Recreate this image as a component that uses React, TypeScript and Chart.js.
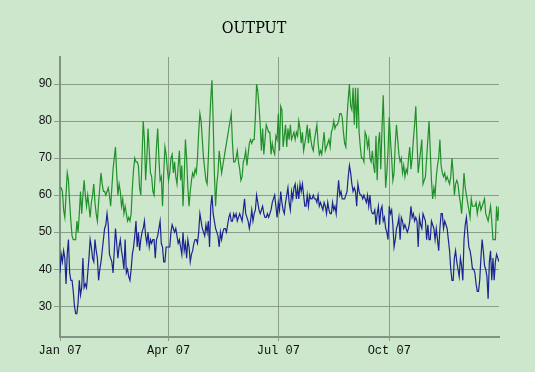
import React, { useEffect, useRef } from "react";
import { Chart, registerables } from "chart.js";

Chart.register(...registerables);

const TITLE = "OUTPUT";

// Daily values, Jan 1 (index 0) .. Dec 31 (index 364)
const GREEN_SERIES: number[] = [
  62, 62, 61, 56, 54, 60, 66, 64, 58, 53,
  49, 48, 48, 48, 53, 50, 55, 61, 55, 60,
  64, 60, 57, 60, 57, 54, 58, 60, 63, 58,
  55, 53, 58, 62, 66, 63, 61, 61, 60, 61,
  62, 60, 57, 62, 67, 70, 73, 66, 60, 63,
  61, 57, 59, 55, 57, 55, 53, 54, 53, 55,
  62, 67, 70, 69, 69, 68, 62, 60, 70, 80,
  75, 64, 70, 78, 72, 66, 65, 61, 60, 66,
  73, 78, 70, 64, 65, 57, 66, 73, 71, 67,
  64, 66, 70, 71, 66, 69, 65, 63, 68, 72,
  64, 68, 57, 65, 75, 70, 62, 57, 61, 64,
  66, 65, 67, 66, 70, 77, 82, 80, 75, 70,
  67, 64, 63, 70, 79, 86, 91, 80, 66, 57,
  63, 66, 72, 69, 66, 68, 70, 72, 74, 76,
  78, 80, 82, 74, 69, 69, 70, 72, 69, 67,
  64, 65, 69, 70, 72, 68, 71, 74, 75, 74,
  75, 75, 81, 90, 88, 84, 79, 72, 78, 71,
  75, 79, 78, 77, 77, 71, 74, 72, 71, 76,
  75, 82, 72, 84, 83, 73, 76, 79, 73, 78,
  75, 79, 75, 76, 77, 75, 77, 76, 80, 78,
  74, 77, 72, 74, 76, 79, 74, 78, 75, 73,
  72, 75, 77, 79, 74, 71, 72, 71, 74, 77,
  72, 73, 74, 75, 73, 77, 78, 80, 78, 79,
  79, 80, 82, 82, 81, 77, 74, 73, 81, 86,
  90, 84, 83, 89, 79, 89, 78, 89, 77, 73,
  70, 70, 69, 77, 76, 73, 75, 70, 69, 72,
  68, 66, 76, 64, 74, 77, 67, 78, 87, 75,
  62, 66, 72, 81, 75, 70, 64, 66, 74, 79,
  75, 71, 69, 70, 66, 68, 65, 67, 66, 70,
  73, 67, 70, 75, 79, 84, 75, 66, 69, 72,
  75, 63, 64, 65, 70, 75, 80, 72, 64, 59,
  62, 60, 65, 68, 70, 75, 68, 66, 65, 66,
  64, 65, 64, 63, 65, 70, 66, 60, 63, 64,
  63, 60, 58, 55, 60, 66, 62, 60, 58, 56,
  54, 59, 57, 57, 57, 58, 55, 57, 58, 56,
  57, 58, 59, 55, 54, 53, 55, 57, 53, 48,
  48, 48, 57, 53, 57,
];

const BLUE_SERIES: number[] = [
  39, 44, 42, 45, 43, 36, 44, 48, 39, 37,
  37, 34, 30, 28, 28, 31, 37, 33, 35, 43,
  35, 36, 35, 39, 43, 48, 46, 43, 42, 48,
  45, 43, 37, 40, 42, 45, 48, 51, 52, 55,
  52, 44, 43, 42, 39, 45, 51, 47, 43, 46,
  48, 45, 43, 40, 48, 39, 40, 38, 37, 40,
  44, 46, 49, 53, 46, 50, 45, 48, 50, 51,
  53, 49, 47, 50, 46, 48, 47, 48, 48, 43,
  48, 49, 51, 53, 47, 46, 42, 42, 46, 46,
  46, 46, 50, 52, 51, 50, 51, 49, 47, 48,
  46, 44, 50, 45, 47, 43, 48, 46, 42, 44,
  45, 47, 48, 48, 47, 50, 55, 53, 51, 50,
  49, 52, 50, 53, 46, 57, 60, 55, 53, 51,
  50, 49, 46, 50, 48, 50, 51, 51, 50, 52,
  54, 55, 53, 53, 55, 54, 55, 53, 54, 55,
  54, 53, 56, 59, 55, 54, 53, 51, 53, 56,
  53, 55, 56, 60, 58, 56, 55, 56, 57, 55,
  54, 54, 55, 54, 55, 56, 58, 59, 60, 57,
  54, 58, 56, 61, 58, 56, 55, 58, 60, 62,
  58, 56, 61, 59, 62, 63, 59, 62, 59, 63,
  61, 63, 60, 57, 57, 60, 57, 60, 59, 59,
  60, 59, 59, 58, 60, 57, 58, 57, 56, 58,
  57, 55, 58, 56, 55, 55, 58, 56, 57, 55,
  60, 64, 60, 61, 59, 59, 59, 60, 61, 65,
  68, 66, 63, 61, 62, 61, 57, 63, 61, 60,
  60, 59, 60, 59, 58, 60, 57, 60, 56, 55,
  55, 56, 52, 55, 57, 52, 56, 57, 53, 54,
  51, 50, 48, 57, 55, 56, 52, 46, 48, 51,
  52, 54, 48, 54, 53, 51, 52, 51, 50, 51,
  53, 57, 54, 55, 53, 54, 53, 46, 54, 52,
  51, 55, 54, 53, 48, 52, 48, 48, 53, 52,
  51, 48, 51, 48, 45, 51, 55, 55, 51, 53,
  52, 51, 48, 45, 40, 37, 37, 43, 45, 42,
  40, 38, 43, 41, 37, 48, 52, 54, 50, 46,
  45, 43, 40, 40, 39, 36, 34, 34, 37, 43,
  48, 45, 41, 40, 38, 32, 42, 45, 37, 43,
  37, 42, 44, 43, 42,
];

const X_TICK_DAYS = [0, 90, 181, 273];
const X_TICK_LABELS = ["Jan 07", "Apr 07", "Jul 07", "Oct 07"];
const Y_TICKS = [30, 40, 50, 60, 70, 80, 90];
const Y_MIN = 21.7;
const Y_MAX = 97.3;
const X_MAX = 364;

const BG = "#cce7cc";
const GRID = "#8a9c8a";
const AXIS = "#7f957f";

const titlePlugin = {
  id: "fixedTitle",
  afterDraw(chart: any) {
    const ctx = chart.ctx;
    ctx.save();
    ctx.fillStyle = "#000";
    ctx.font = "16px 'DejaVu Serif Condensed', 'DejaVu Serif', serif";
    ctx.textAlign = "center";
    ctx.textBaseline = "middle";
    ctx.fillText(TITLE, 254, 29);
    ctx.restore();
  },
};

const bgPlugin = {
  id: "bgFill",
  beforeDraw(chart: any) {
    const ctx = chart.ctx;
    ctx.save();
    ctx.fillStyle = BG;
    ctx.fillRect(0, 0, chart.width, chart.height);
    ctx.restore();
  },
};

export default function App() {
  const ref = useRef<HTMLCanvasElement | null>(null);

  useEffect(() => {
    if (!ref.current) return;
    const chart = new Chart(ref.current, {
      type: "line",
      data: {
        datasets: [
          {
            label: "green",
            data: GREEN_SERIES.map((v, i) => ({ x: i, y: v })),
            borderColor: "#22902a",
            borderWidth: 1.2,
            pointRadius: 0,
            tension: 0,
            fill: false,
          },
          {
            label: "blue",
            data: BLUE_SERIES.map((v, i) => ({ x: i, y: v })),
            borderColor: "#1b2590",
            borderWidth: 1.2,
            pointRadius: 0,
            tension: 0,
            fill: false,
          },
        ],
      },
      options: {
        animation: false,
        responsive: false,
        events: [],
        layout: { padding: { top: 57, right: 36, left: 0, bottom: 0 } },
        plugins: {
          legend: { display: false },
          title: { display: false },
          tooltip: { enabled: false },
        },
        scales: {
          x: {
            type: "linear",
            min: 0,
            max: X_MAX,
            afterBuildTicks: (scale: any) => {
              scale.ticks = X_TICK_DAYS.map((v) => ({ value: v }));
            },
            afterFit: (scale: any) => {
              scale.height = 35;
            },
            ticks: {
              autoSkip: false,
              maxRotation: 0,
              padding: 3,
              color: "#111",
              font: { family: "'Liberation Mono', monospace", size: 12 },
              callback: (value: any) => {
                const idx = X_TICK_DAYS.indexOf(Number(value));
                return idx >= 0 ? X_TICK_LABELS[idx] : "";
              },
            },
            grid: {
              color: GRID,
              lineWidth: 1,
              drawTicks: true,
              tickLength: 4,
            },
            border: { display: true, color: AXIS, width: 2 },
          },
          y: {
            type: "linear",
            min: Y_MIN,
            max: Y_MAX,
            afterBuildTicks: (scale: any) => {
              scale.ticks = Y_TICKS.map((v) => ({ value: v }));
            },
            afterFit: (scale: any) => {
              scale.width = 60;
            },
            ticks: {
              padding: 2,
              color: "#111",
              font: { family: "'Liberation Sans', Arial, sans-serif", size: 12 },
            },
            grid: {
              color: GRID,
              lineWidth: 1,
              drawTicks: true,
              tickLength: 6,
            },
            border: { display: true, color: AXIS, width: 2 },
          },
        },
      },
      plugins: [bgPlugin, titlePlugin],
    });
    return () => chart.destroy();
  }, []);

  return (
    <div style={{ position: "fixed", left: 0, top: 0, width: 535, height: 372, background: BG }}>
      <canvas ref={ref} width={535} height={372} style={{ display: "block" }} />
    </div>
  );
}
